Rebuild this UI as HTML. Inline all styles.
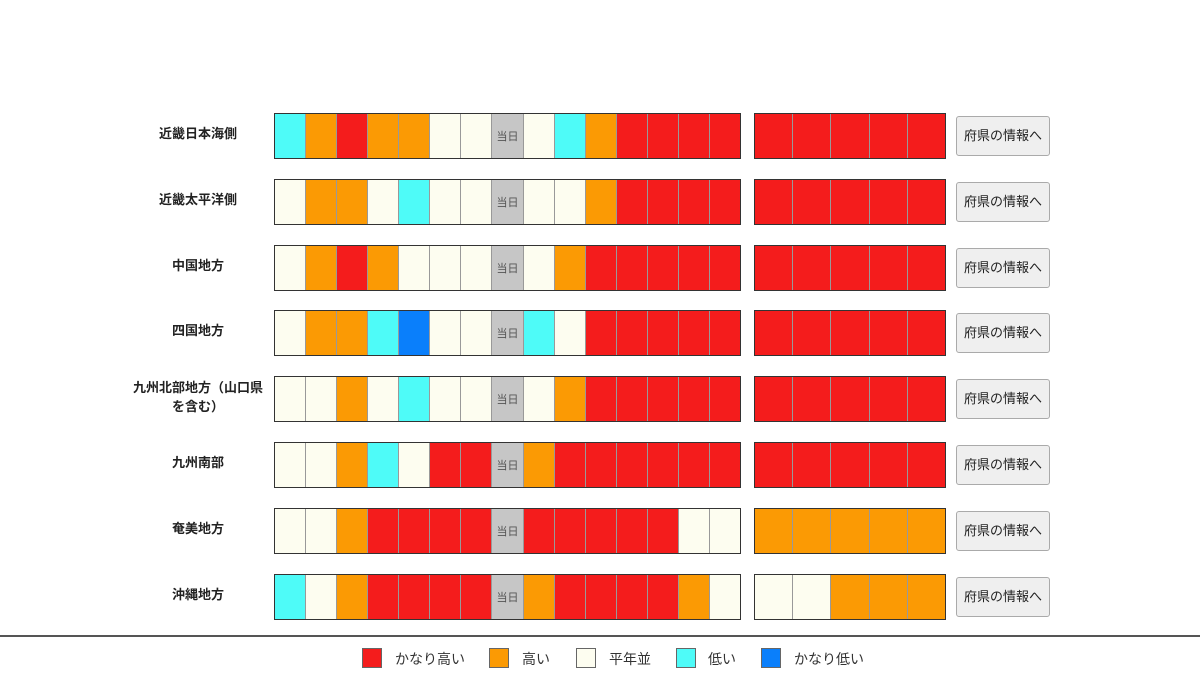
<!DOCTYPE html><html><head><meta charset="utf-8"><style>
body{margin:0;width:1200px;height:675px;background:#fff;position:relative;overflow:hidden;font-family:"Liberation Sans","Noto Sans CJK JP",sans-serif}
.lab{position:absolute;left:130px;width:136px;text-align:center;font-weight:bold;font-size:13px;color:#222;line-height:19px}
.blk{position:absolute;height:44px;border:1px solid #333;display:flex}
.blk div{flex:1;border-left:1px solid #999;font-size:11px;color:#555;display:flex;align-items:center;justify-content:center}
.blk div:first-child{border-left:none}
.btn{position:absolute;left:956px;width:92px;height:38px;border:1px solid #aaa;border-radius:3px;background:#efefef;font-size:13px;color:#222;display:flex;align-items:center;justify-content:center;line-height:16px}
.r{background:#f41c1c}.o{background:#fb9a04}.w{background:#fdfdf0}.c{background:#4efbf8}.b{background:#0a7ffb}.g{background:#c6c6c6}
.lg{position:absolute;top:648px;width:20px;height:20px;border:1px solid #666;box-sizing:border-box}
.lt{position:absolute;top:649px;font-size:14px;color:#333}
</style></head><body>
<div id="c"></div>
<div style="position:absolute;left:0;top:635px;width:1200px;height:2px;background:#555"></div>
<div class="lg r" style="left:362px"></div><div class="lt" style="left:395px">かなり高い</div>
<div class="lg o" style="left:489px"></div><div class="lt" style="left:522px">高い</div>
<div class="lg w" style="left:576px"></div><div class="lt" style="left:609px">平年並</div>
<div class="lg c" style="left:676px"></div><div class="lt" style="left:708px">低い</div>
<div class="lg b" style="left:761px"></div><div class="lt" style="left:794px">かなり低い</div>
<script>
var rows=[["近畿日本海側","coroowwgwcorrrr","rrrrr"],["近畿太平洋側","woowcwwgwworrrr","rrrrr"],["中国地方","worowwwgworrrrr","rrrrr"],["四国地方","woocbwwgcwrrrrr","rrrrr"],["九州北部地方（山口県<br>を含む）","wwowcwwgworrrrr","rrrrr"],["九州南部","wwocwrrgorrrrrr","rrrrr"],["奄美地方","wworrrrgrrrrrww","ooooo"],["沖縄地方","cworrrrgorrrrow","wwooo"]];
var h="";rows.forEach(function(r,i){var t=113+i*65.8;
var two=r[0].indexOf("<br>")>0;
h+='<div class="lab" style="top:'+(t+(two?2:11))+'px">'+r[0]+'</div>';
h+='<div class="blk" style="left:274px;width:465px;top:'+t+'px">';
for(var k of r[1])h+='<div class="'+k+'">'+(k=="g"?"当日":"")+'</div>';
h+='</div><div class="blk" style="left:754px;width:190px;top:'+t+'px">';
for(var k of r[2])h+='<div class="'+k+'"></div>';
h+='</div><div class="btn" style="top:'+(t+3)+'px">府県の情報へ</div>';});
document.getElementById("c").innerHTML=h;
</script></body></html>
